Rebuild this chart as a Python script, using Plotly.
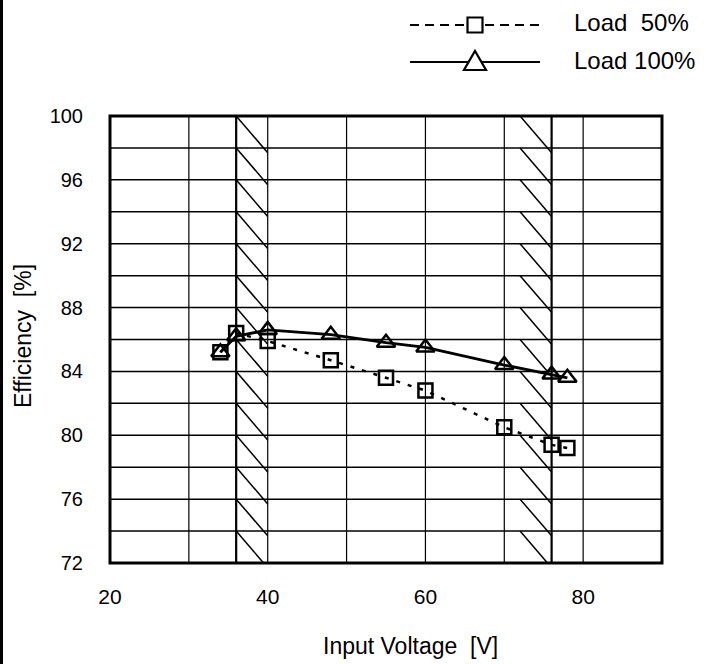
import plotly.graph_objects as go

# ---- data ----
voltage = [34, 36, 40, 48, 55, 60, 70, 76, 78]
eff_load50 = [85.2, 86.4, 85.9, 84.7, 83.6, 82.8, 80.5, 79.4, 79.2]
eff_load100 = [85.2, 86.2, 86.6, 86.3, 85.8, 85.5, 84.4, 83.8, 83.6]

x_ticks = [20, 40, 60, 80]
y_ticks = [72, 76, 80, 84, 88, 92, 96, 100]
x_grid = [30, 36, 40, 50, 60, 70, 76, 80]
x_grid_thick = [36, 76]
y_grid = list(range(72, 101, 2))
hatch_bands = [(36, 40), (72, 76)]
legend_names = ["Load  50%", "Load 100%"]

X_RANGE = [20, 90]
Y_RANGE = [72, 100]

FONT = "Arial, Liberation Sans, sans-serif"

fig = go.Figure()

fig.add_trace(go.Scatter(
    x=voltage, y=eff_load50, mode="lines+markers", name=legend_names[0],
    line=dict(color="black", width=2.5, dash="4px,8px"),
    marker=dict(symbol="square-open", size=14, color="black", line=dict(width=2.5)),
    cliponaxis=False, showlegend=False))
fig.add_trace(go.Scatter(
    x=voltage, y=eff_load100, mode="lines+markers", name=legend_names[1],
    line=dict(color="black", width=2.8),
    marker=dict(symbol="triangle-up-open", size=16, color="black", line=dict(width=2.5)),
    cliponaxis=False, showlegend=False))

shapes = []
# horizontal gridlines
for yv in y_grid:
    shapes.append(dict(type="line", xref="paper", yref="y", x0=0, x1=1, y0=yv, y1=yv,
                       line=dict(color="black", width=1.5), layer="below"))
# vertical gridlines
for xv in x_grid:
    w = 2.2 if xv in x_grid_thick else 1.2
    shapes.append(dict(type="line", xref="x", yref="paper", x0=xv, x1=xv, y0=0, y1=1,
                       line=dict(color="black", width=w), layer="below"))
# hatching
drop = 2.3
for (a, b) in hatch_bands:
    ys = Y_RANGE[1]
    while ys > Y_RANGE[0]:
        ye = ys - drop
        xe = b
        if ye < Y_RANGE[0]:
            xe = a + (b - a) * (ys - Y_RANGE[0]) / drop
            ye = Y_RANGE[0]
        shapes.append(dict(type="line", xref="x", yref="y", x0=a, y0=ys, x1=xe, y1=ye,
                           line=dict(color="black", width=1.5), layer="below"))
        ys -= 2
# frame
shapes.append(dict(type="rect", xref="paper", yref="paper", x0=0, x1=1, y0=0, y1=1,
                   line=dict(color="black", width=3)))

# ---- custom legend (pixel layout converted to paper) ----
L, R, T, B = 110, 44, 116, 101
W, H = 706, 664
pw, ph = W - L - R, H - T - B

def px(xp):
    return (xp - L) / pw

def py(yp):
    return (H - B - yp) / ph

leg_rows = [25, 62]
shapes.append(dict(type="line", xref="paper", yref="paper", x0=px(410), x1=px(540),
                   y0=py(leg_rows[0]), y1=py(leg_rows[0]),
                   line=dict(color="black", width=2.2, dash="9px,6px")))
shapes.append(dict(type="line", xref="paper", yref="paper", x0=px(410), x1=px(540),
                   y0=py(leg_rows[1]), y1=py(leg_rows[1]),
                   line=dict(color="black", width=2.2)))
shapes.append(dict(type="rect", xref="paper", yref="paper", xsizemode="pixel", ysizemode="pixel",
                   xanchor=px(475), yanchor=py(leg_rows[0]), x0=-7.5, x1=7.5, y0=-7.5, y1=7.5,
                   fillcolor="white", line=dict(color="black", width=2.2)))
shapes.append(dict(type="path", xref="paper", yref="paper", xsizemode="pixel", ysizemode="pixel",
                   xanchor=px(475), yanchor=py(leg_rows[1]),
                   path="M -11,-8 L 11,-8 L 0,11 Z",
                   fillcolor="white", line=dict(color="black", width=2.2)))
# page border artifact at left edge
shapes.append(dict(type="line", xref="paper", yref="paper", x0=px(1.5), x1=px(1.5), y0=py(0), y1=py(H),
                   line=dict(color="black", width=3)))

annotations = []
for name, yr in zip(legend_names, leg_rows):
    annotations.append(dict(xref="paper", yref="paper", x=px(572), y=py(yr - 2), text=name,
                            showarrow=False, xanchor="left", yanchor="middle",
                            font=dict(family=FONT, size=24, color="black")))
annotations.append(dict(xref="paper", yref="paper", x=px(410), y=py(646), text="Input Voltage  [V]",
                        showarrow=False, xanchor="center", yanchor="middle",
                        font=dict(family=FONT, size=23, color="black")))
annotations.append(dict(xref="paper", yref="paper", x=px(23), y=py(336), text="Efficiency  [%]",
                        showarrow=False, xanchor="center", yanchor="middle", textangle=-90,
                        font=dict(family=FONT, size=23, color="black")))

fig.update_layout(
    width=W, height=H,
    margin=dict(l=L, r=R, t=T, b=B, autoexpand=False),
    paper_bgcolor="white", plot_bgcolor="white",
    shapes=shapes, annotations=annotations,
    xaxis=dict(range=X_RANGE, tickmode="array", tickvals=x_ticks, showgrid=False, zeroline=False,
               showline=False, ticks="", ticklabelstandoff=19,
               tickfont=dict(family=FONT, size=21, color="black")),
    yaxis=dict(range=Y_RANGE, tickmode="array", tickvals=y_ticks, showgrid=False, zeroline=False,
               showline=False, ticks="", ticklabelstandoff=26,
               tickfont=dict(family=FONT, size=20, color="black")),
    showlegend=False,
)

fig.write_html("out.html")
